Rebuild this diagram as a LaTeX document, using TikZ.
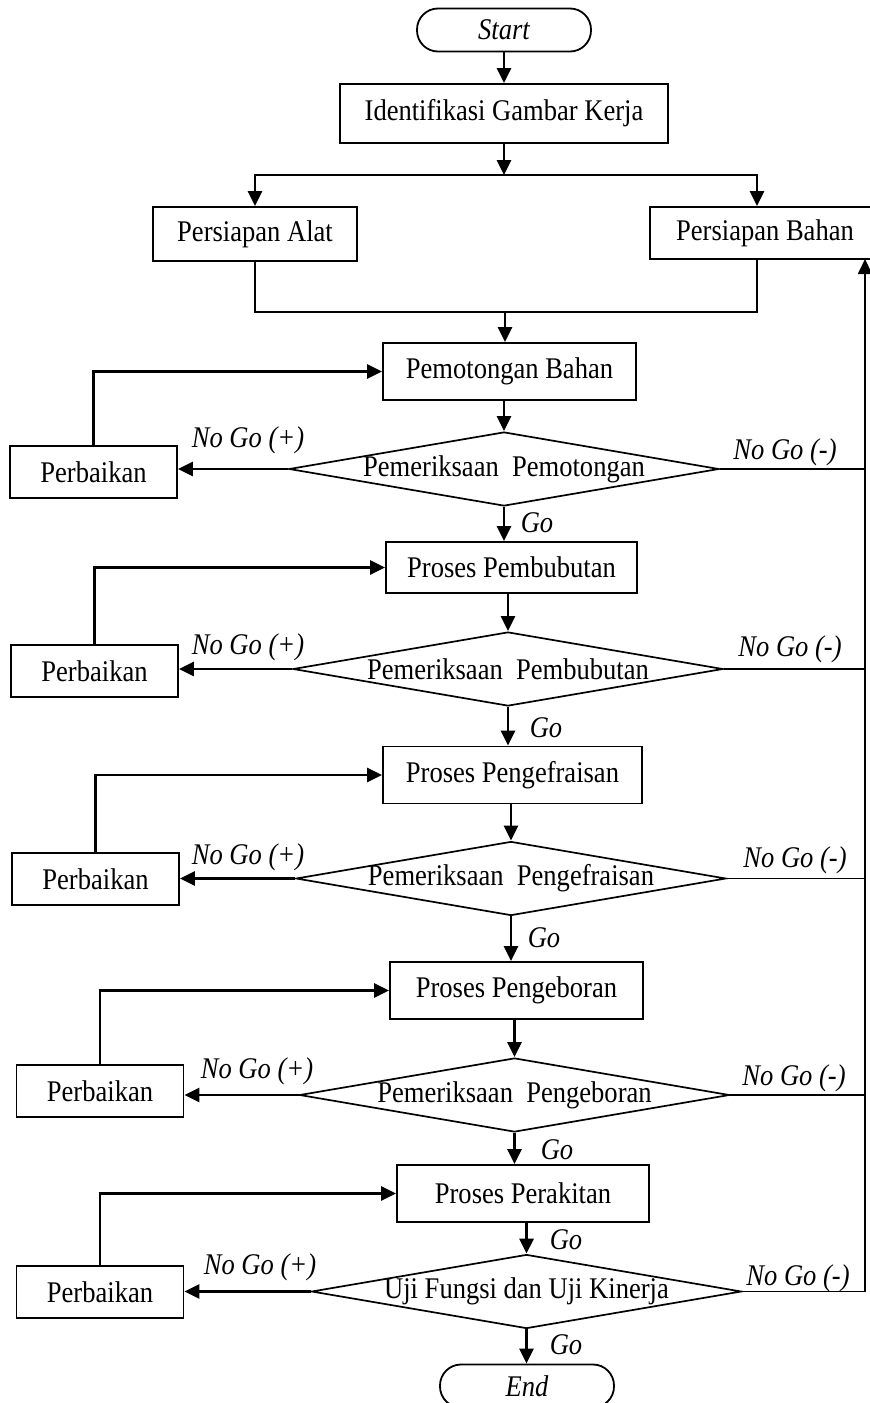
\documentclass[tikz,border=0pt]{standalone}
\usepackage{fontspec}
\setmainfont{Liberation Serif}[FakeStretch=0.885]
\usepackage{tikz}
\usetikzlibrary{shapes.geometric,arrows.meta}
\tikzstyle{base} = [font=\fontsize{30}{34}\selectfont, text centered, inner sep=0pt]
\tikzstyle{startstop} = [base, rectangle, rounded corners=21pt, minimum width=174pt, minimum height=43pt, draw=black, line width=1.8pt, font=\fontsize{30}{34}\selectfont\itshape]
\tikzstyle{process} = [base, rectangle, minimum width=253pt, minimum height=57pt, draw=black, line width=1.8pt]
\tikzstyle{fixbox} = [process, minimum width=167pt, minimum height=52pt]
\tikzstyle{decision} = [base, diamond, aspect=5.81, inner ysep=-2pt, minimum width=430pt, minimum height=74pt, draw=black, line width=1.7pt]
\tikzstyle{lbl} = [base, font=\fontsize{30}{34}\selectfont\itshape]
\tikzstyle{arrow} = [line width=2.8pt, -{Triangle[length=15pt,width=14pt]}]
\tikzstyle{thinline} = [line width=1.5pt]
\tikzstyle{thinarrow} = [line width=1.8pt, -{Triangle[length=15pt,width=14pt]}]

\begin{document}
\begin{tikzpicture}[x=1pt,y=-1pt]
\useasboundingbox (0,0) rectangle (870,1403);
\clip (0,0) rectangle (870,1403);
% main column
\node (start) [startstop] at (504,30) {Start};
\node (ident) [process, minimum width=328pt, minimum height=59pt] at (504,113.5) {Identifikasi Gambar Kerja};
\node (alat) [process, minimum width=204pt, minimum height=54pt] at (255,234) {Persiapan Alat};
\node (bahan) [process, minimum width=230pt, minimum height=52pt] at (765,233) {Persiapan Bahan};
\node (potong) [process] at (509.5,371.5) {Pemotongan Bahan};
\node (cek1) [decision] at (504,469) {Pemeriksaan~ Pemotongan};
\node (bubut) [process, minimum width=251pt, minimum height=51pt] at (511.5,567.5) {Proses Pembubutan};
\node (cek2) [decision] at (508,669) {Pemeriksaan~ Pembubutan};
\node (frais) [process, minimum width=259pt] at (512.5,775) {Proses Pengefraisan};
\node (cek3) [decision] at (511,878.5) {Pemeriksaan~ Pengefraisan};
\node (bor) [process] at (516.5,990.5) {Proses Pengeboran};
\node (cek4) [decision] at (514.5,1095) {Pemeriksaan~ Pengeboran};
\node (rakit) [process, minimum width=252pt] at (523,1193.5) {Proses Perakitan};
\node (uji) [decision] at (526.5,1291.5) {Uji Fungsi dan Uji Kinerja};
\node (end) [startstop] at (527,1386) {End};
% repair boxes
\node (perb1) [fixbox] at (93.5,472) {Perbaikan};
\node (perb2) [fixbox] at (94.5,671) {Perbaikan};
\node (perb3) [fixbox] at (95.5,879) {Perbaikan};
\node (perb4) [fixbox] at (100,1091) {Perbaikan};
\node (perb5) [fixbox] at (100,1292) {Perbaikan};
% labels
\node (go1) [lbl] at (537,523) {Go};
\node (go2) [lbl] at (546,728) {Go};
\node (go3) [lbl] at (544,938) {Go};
\node (go4) [lbl] at (557,1150) {Go};
\node (go5) [lbl] at (566,1240) {Go};
\node (go6) [lbl] at (566,1345) {Go};
\node (plus1) [lbl] at (248,440) {No Go (+)};
\node (plus2) [lbl] at (248,647) {No Go (+)};
\node (plus3) [lbl] at (248,857) {No Go (+)};
\node (plus4) [lbl] at (257,1071) {No Go (+)};
\node (plus5) [lbl] at (260,1267) {No Go (+)};
\node (minus1) [lbl] at (785,452) {No Go (-)};
\node (minus2) [lbl] at (790,649) {No Go (-)};
\node (minus3) [lbl] at (795,860) {No Go (-)};
\node (minus4) [lbl] at (794,1078) {No Go (-)};
\node (minus5) [lbl] at (798,1278) {No Go (-)};
\coordinate (fork) at (504,175);
\coordinate (merge) at (505,312);
\coordinate (back) at (865,259);
% connectors
\draw [arrow] (start) -- (ident);
\draw [arrow] (ident) -- (fork);
\draw [arrow] (fork) -| (alat.north);
\draw [arrow] (fork) -| ([xshift=-8pt]bahan.north);
\draw [thinline] (alat.south) |- (merge) -| ([xshift=-8pt]bahan.south);
\draw [arrow] (merge) -- (merge |- potong.north);
\draw [arrow] (cek1.north |- potong.south) -- (cek1.north);
\draw [arrow] (cek1.south) -- (cek1.south |- bubut.north);
\draw [arrow] (cek2.north |- bubut.south) -- (cek2.north);
\draw [arrow] (cek2.south) -- (cek2.south |- frais.north);
\draw [arrow] (cek3.north |- frais.south) -- (cek3.north);
\draw [arrow] (cek3.south) -- (cek3.south |- bor.north);
\draw [arrow] (cek4.north |- bor.south) -- (cek4.north);
\draw [arrow] (cek4.south) -- (cek4.south |- rakit.north);
\draw [arrow] (uji.north |- rakit.south) -- (uji.north);
\draw [arrow] (uji.south) -- (uji.south |- end.north);
% no go (+)
\draw [arrow] (cek1.west) -- (perb1.east |- cek1.west);
\draw [arrow] (cek2.west) -- (perb2.east |- cek2.west);
\draw [arrow] (cek3.west) -- (perb3.east |- cek3.west);
\draw [arrow] (cek4.west) -- (perb4.east |- cek4.west);
\draw [arrow] (uji.west) -- (perb5.east |- uji.west);
\draw [arrow] (perb1.north) |- (potong.west);
\draw [arrow] (perb2.north) |- (bubut.west);
\draw [arrow] (perb3.north) |- (frais.west);
\draw [arrow] (perb4.north) |- (bor.west);
\draw [arrow] (perb5.north) |- (rakit.west);
% no go (-)
\draw [thinline] (cek1.east) -- (cek1.east -| back);
\draw [thinline] (cek2.east) -- (cek2.east -| back);
\draw [thinline] (cek3.east) -- (cek3.east -| back);
\draw [thinline] (cek4.east) -- (cek4.east -| back);
\draw [thinarrow] (uji.east) -| (back);
\end{tikzpicture}
\end{document}
